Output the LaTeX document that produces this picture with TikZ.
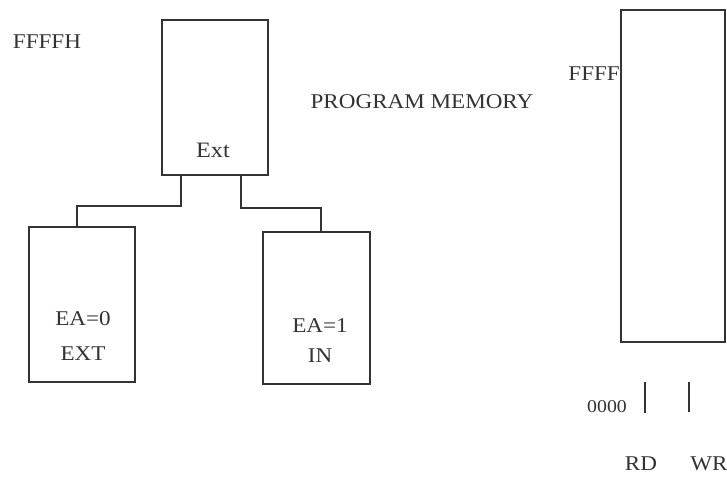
\documentclass[tikz,border=0pt]{standalone}
\usepackage{fontspec}
\setmainfont[FakeStretch=1.1]{Liberation Serif}
\usetikzlibrary{calc}
\definecolor{ink}{HTML}{333333}
\begin{document}
\begin{tikzpicture}[x=1pt,y=-1pt,
  box/.style={draw=ink,line width=1.5pt,inner sep=0pt,minimum width=#1},
  lbl/.style={text=ink,font=\fontsize{21}{24}\selectfont,inner sep=0pt},
  wire/.style={draw=ink,line width=1.6pt}]
\useasboundingbox (0,0) rectangle (727,479);
% boxes
\node[box=106pt,minimum height=155pt] (top) at (215,97.5) {};
\node[box=106pt,minimum height=155pt] (left) at (82,304.5) {};
\node[box=107pt,minimum height=152pt] (right) at (316.5,308) {};
\node[box=104pt,minimum height=332pt] (mem) at (673,176) {};
% texts
\node[lbl] (ffffh) at (47,42) {FFFFH};
\node[lbl,font=\fontsize{22}{24}\selectfont] (ext) at (213,150) {Ext};
\node[lbl,align=center,font=\fontsize{21}{35}\selectfont] (ea0) at (83,336) {EA=0\\EXT};
\node[lbl,align=center,font=\fontsize{21}{30}\selectfont] (ea1) at (320,341) {EA=1\\IN};
\node[lbl] (pm) at (422,102) {PROGRAM MEMORY};
\node[lbl,anchor=east] (ffff) at (620,74) {FFFF};
\node[lbl,font=\fontsize{18}{20}\selectfont] (zero) at (607,407) {0000};
\node[lbl] (rd) at (641,464) {RD};
\node[lbl] (wr) at (709,464) {WR};
% connectors
\coordinate (tl) at ($(top.south west)+(20,0)$);
\coordinate (tr) at ($(top.south west)+(80,0)$);
\coordinate (lt) at ($(left.north west)+(49,0)$);
\coordinate (rt) at ($(right.north west)+(59,0)$);
\draw[wire] (tl) -- ++(0,30) -| (lt);
\draw[wire] (tr) -- ++(0,32) -| (rt);
% ticks
\coordinate (rdtop) at (645,382);
\coordinate (wrtop) at (689,382);
\draw[wire,line width=1.2pt] (rdtop) -- ++(0,31);
\draw[wire,line width=1.2pt] (wrtop) -- ++(0,30);
\end{tikzpicture}
\end{document}
